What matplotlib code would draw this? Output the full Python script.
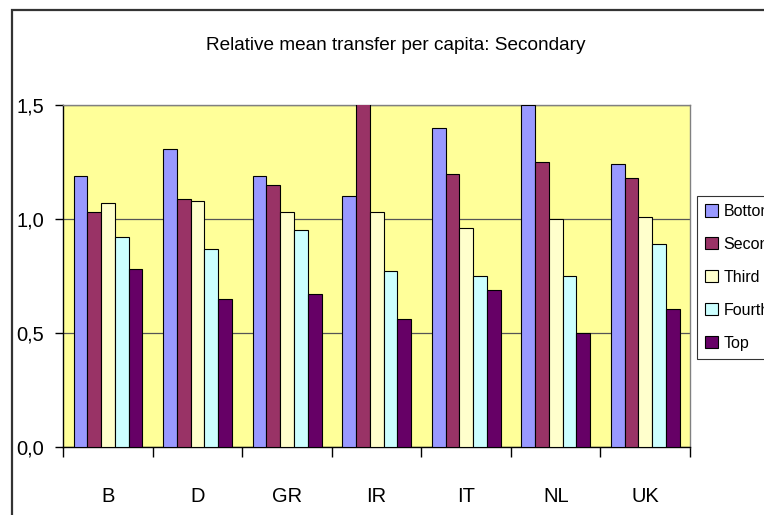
import matplotlib
matplotlib.use("Agg")
import matplotlib.pyplot as plt
import numpy as np
from matplotlib.patches import Rectangle, Patch

plt.rcParams['font.family'] = ['Liberation Sans', 'DejaVu Sans']

countries = ["B", "D", "GR", "IR", "IT", "NL", "UK"]
series_names = ["Bottom", "Second", "Third", "Fourth", "Top"]
bottom = [1.19, 1.31, 1.19, 1.10, 1.40, 1.50, 1.24]
second = [1.03, 1.09, 1.15, 1.55, 1.20, 1.25, 1.18]
third = [1.07, 1.08, 1.03, 1.03, 0.96, 1.00, 1.01]
fourth = [0.92, 0.87, 0.95, 0.77, 0.75, 0.75, 0.89]
top = [0.78, 0.65, 0.67, 0.56, 0.69, 0.50, 0.605]
colors = ["#9999FF", "#993366", "#FFFFCC", "#CCFFFF", "#660066"]
yticks = [0.0, 0.5, 1.0, 1.5]
ytick_labels = ["0,0", "0,5", "1,0", "1,5"]

series = [bottom, second, third, fourth, top]

W, H = 764, 515
fig = plt.figure(figsize=(W / 100, H / 100), dpi=100)
fig.patch.set_facecolor("white")

# outer chart frame
fig.add_artist(Rectangle((12 / W, -0.2), 1.5, (H - 10) / H + 0.2,
                         transform=fig.transFigure, fill=False,
                         edgecolor="#333333", linewidth=1.6))

ax = fig.add_axes([63.3 / W, (H - 446.7) / H, 626.7 / W, 341.4 / H])
ax.set_facecolor("#FFFF99")

n = len(series)
group_w = 1.0
bar_w = group_w / (n + 1.5)
x = np.arange(len(countries))
for i, (vals, c, name) in enumerate(zip(series, colors, series_names)):
    offs = (i - (n - 1) / 2) * bar_w
    ax.bar(x + offs, vals, width=bar_w, color=c, edgecolor="black",
           linewidth=0.8, label=name, zorder=3)

ax.set_xlim(-0.5, len(countries) - 0.5)
ax.set_ylim(0, 1.5)
ax.set_yticks(yticks)
ax.set_yticklabels(ytick_labels)
ax.yaxis.grid(True, color="#555555", linewidth=0.9, zorder=1)
ax.set_axisbelow(True)

ax.set_xticks(np.arange(-0.5, len(countries), 1.0))
ax.set_xticklabels([])
ax.set_xticks(x, minor=True)
ax.set_xticklabels(countries, minor=True)
ax.tick_params(axis="x", which="major", length=7, width=1, color="black", direction="out")
ax.tick_params(axis="x", which="minor", length=0, pad=29, labelsize=14.5)
ax.tick_params(axis="y", length=6, width=1, color="black", labelsize=14.5, pad=8)

for s in ["top", "right"]:
    ax.spines[s].set_color("#808080")
    ax.spines[s].set_linewidth(1.0)
for s in ["left", "bottom"]:
    ax.spines[s].set_color("black")
    ax.spines[s].set_linewidth(1.0)

fig.text(396 / W, (H - 45) / H, "Relative mean transfer per capita: Secondary",
         ha="center", va="center", fontsize=13.7)

handles = [Patch(facecolor=c, edgecolor="black", linewidth=0.8) for c in colors]
leg = fig.legend(handles, series_names, loc="upper left",
                 bbox_to_anchor=(697 / W, (H - 196) / H),
                 fontsize=11.5, frameon=True, fancybox=False,
                 edgecolor="black", handlelength=0.8, handleheight=0.8,
                 handletextpad=0.35, labelspacing=1.12, borderpad=0.5,
                 borderaxespad=0)
leg.get_frame().set_linewidth(0.8)

fig.savefig("out.png", dpi=100)
